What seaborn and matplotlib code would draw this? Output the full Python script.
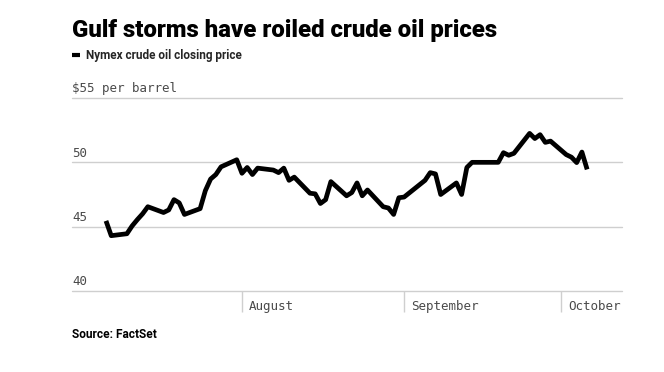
import pandas as pd
import matplotlib.pyplot as plt
import matplotlib.transforms as mtransforms
import seaborn as sns

sns.set_style("white")

# Nymex crude oil closing price, 2017
dates = [
    "2017-07-06", "2017-07-07", "2017-07-10", "2017-07-11", "2017-07-12", "2017-07-13", "2017-07-14",
    "2017-07-17", "2017-07-18", "2017-07-19", "2017-07-20", "2017-07-21", "2017-07-24", "2017-07-25",
    "2017-07-26", "2017-07-27", "2017-07-28", "2017-07-31",
    "2017-08-01", "2017-08-02", "2017-08-03", "2017-08-04", "2017-08-07", "2017-08-08", "2017-08-09",
    "2017-08-10", "2017-08-11", "2017-08-14", "2017-08-15", "2017-08-16", "2017-08-17", "2017-08-18",
    "2017-08-21", "2017-08-22", "2017-08-23", "2017-08-24", "2017-08-25", "2017-08-28", "2017-08-29",
    "2017-08-30", "2017-08-31",
    "2017-09-01", "2017-09-05", "2017-09-06", "2017-09-07", "2017-09-08", "2017-09-11", "2017-09-12",
    "2017-09-13", "2017-09-14", "2017-09-15", "2017-09-18", "2017-09-19", "2017-09-20", "2017-09-21",
    "2017-09-22", "2017-09-25", "2017-09-26", "2017-09-27", "2017-09-28", "2017-09-29",
    "2017-10-02", "2017-10-03", "2017-10-04", "2017-10-05", "2017-10-06",
]
prices = [
    45.45, 44.3, 44.45, 45.06, 45.55, 46.0, 46.55,
    46.1, 46.3, 47.1, 46.85, 45.95, 46.4, 47.8,
    48.7, 49.05, 49.65, 50.2,
    49.15, 49.6, 49.05, 49.55, 49.4, 49.2, 49.55,
    48.6, 48.85, 47.6, 47.55, 46.8, 47.1, 48.5,
    47.4, 47.65, 48.4, 47.4, 47.85, 46.55, 46.45,
    45.95, 47.25,
    47.3, 48.6, 49.2, 49.1, 47.5, 48.4, 47.5,
    49.6, 50.0, 50.0, 50.0, 50.0, 50.75, 50.55,
    50.7, 52.25, 51.85, 52.15, 51.55, 51.65,
    50.6, 50.4, 49.98, 50.8, 49.45,
]
y_ticks = [40, 45, 50, 55]
y_labels = ["40", "45", "50", "$55 per barrel"]
month_ticks = ["2017-08-01", "2017-09-01", "2017-10-01"]
month_labels = ["August", "September", "October"]

df = pd.DataFrame({"date": pd.to_datetime(dates), "price": prices})

grid_col = "#cfcfcf"
text_col = "#4a4a4a"
mono = ["DejaVu Sans Mono"]
heavy = ["Roboto", "DejaVu Sans"]

fig = plt.figure(figsize=(6.64, 3.72), dpi=100)
ax = fig.add_axes([72 / 664, 1 - 291 / 372, 550 / 664, 193 / 372])

sns.lineplot(data=df, x="date", y="price", ax=ax, color="black", linewidth=3.4,
             label="Nymex crude oil closing price")
ax.lines[0].set_solid_joinstyle("round")
ax.lines[0].set_solid_capstyle("butt")

ax.set_xlim(pd.Timestamp("2017-06-29 12:00"), pd.Timestamp("2017-10-12 16:00"))
ax.set_ylim(40, 55)
ax.set_xlabel("")
ax.set_ylabel("")

# horizontal gridlines with labels sitting on top of them
ax.set_yticks(y_ticks)
ax.set_yticklabels([])
ax.tick_params(axis="y", length=0)
for v in y_ticks:
    ax.axhline(v, color=grid_col, linewidth=1.0, zorder=0, clip_on=False)
ylab_tr = mtransforms.offset_copy(ax.get_yaxis_transform(), fig=fig, x=0, y=1.8, units="points")
for v, lab in zip(y_ticks, y_labels):
    ax.text(0, v, lab, transform=ylab_tr, ha="left", va="bottom",
            fontsize=9, family=mono, color=text_col)

# month ticks hanging below the axis
ax.set_xticks(pd.to_datetime(month_ticks))
ax.set_xticklabels([])
ax.tick_params(axis="x", bottom=True, direction="out", length=15, width=1.0, color=grid_col, pad=0)
xlab_tr = mtransforms.offset_copy(ax.get_xaxis_transform(), fig=fig, x=5, y=-11, units="points")
for d, lab in zip(pd.to_datetime(month_ticks), month_labels):
    ax.text(d, 0, lab, transform=xlab_tr, ha="left", va="center",
            fontsize=9, family=mono, color=text_col)

for s in ax.spines.values():
    s.set_visible(False)

# legend as the subtitle line
leg = ax.legend(loc="upper left", bbox_to_anchor=(72 / 664, 1 - 49 / 372), bbox_transform=fig.transFigure,
                frameon=False, handlelength=0.7, handletextpad=0.5, borderaxespad=0, borderpad=0,
                prop={"family": heavy, "weight": "bold", "size": 8.5})
leg.get_lines()[0].set_linewidth(3)

fig.text(72 / 664, 1 - 30 / 372, "Gulf storms have roiled crude oil prices",
         family=heavy, weight="black", fontsize=17.2, color="black", ha="left", va="center")
fig.text(72 / 664, 1 - 335 / 372, "Source: FactSet",
         family=heavy, weight="bold", fontsize=8.6, color="black", ha="left", va="center")

fig.savefig("out.png", dpi=100, facecolor="white")
